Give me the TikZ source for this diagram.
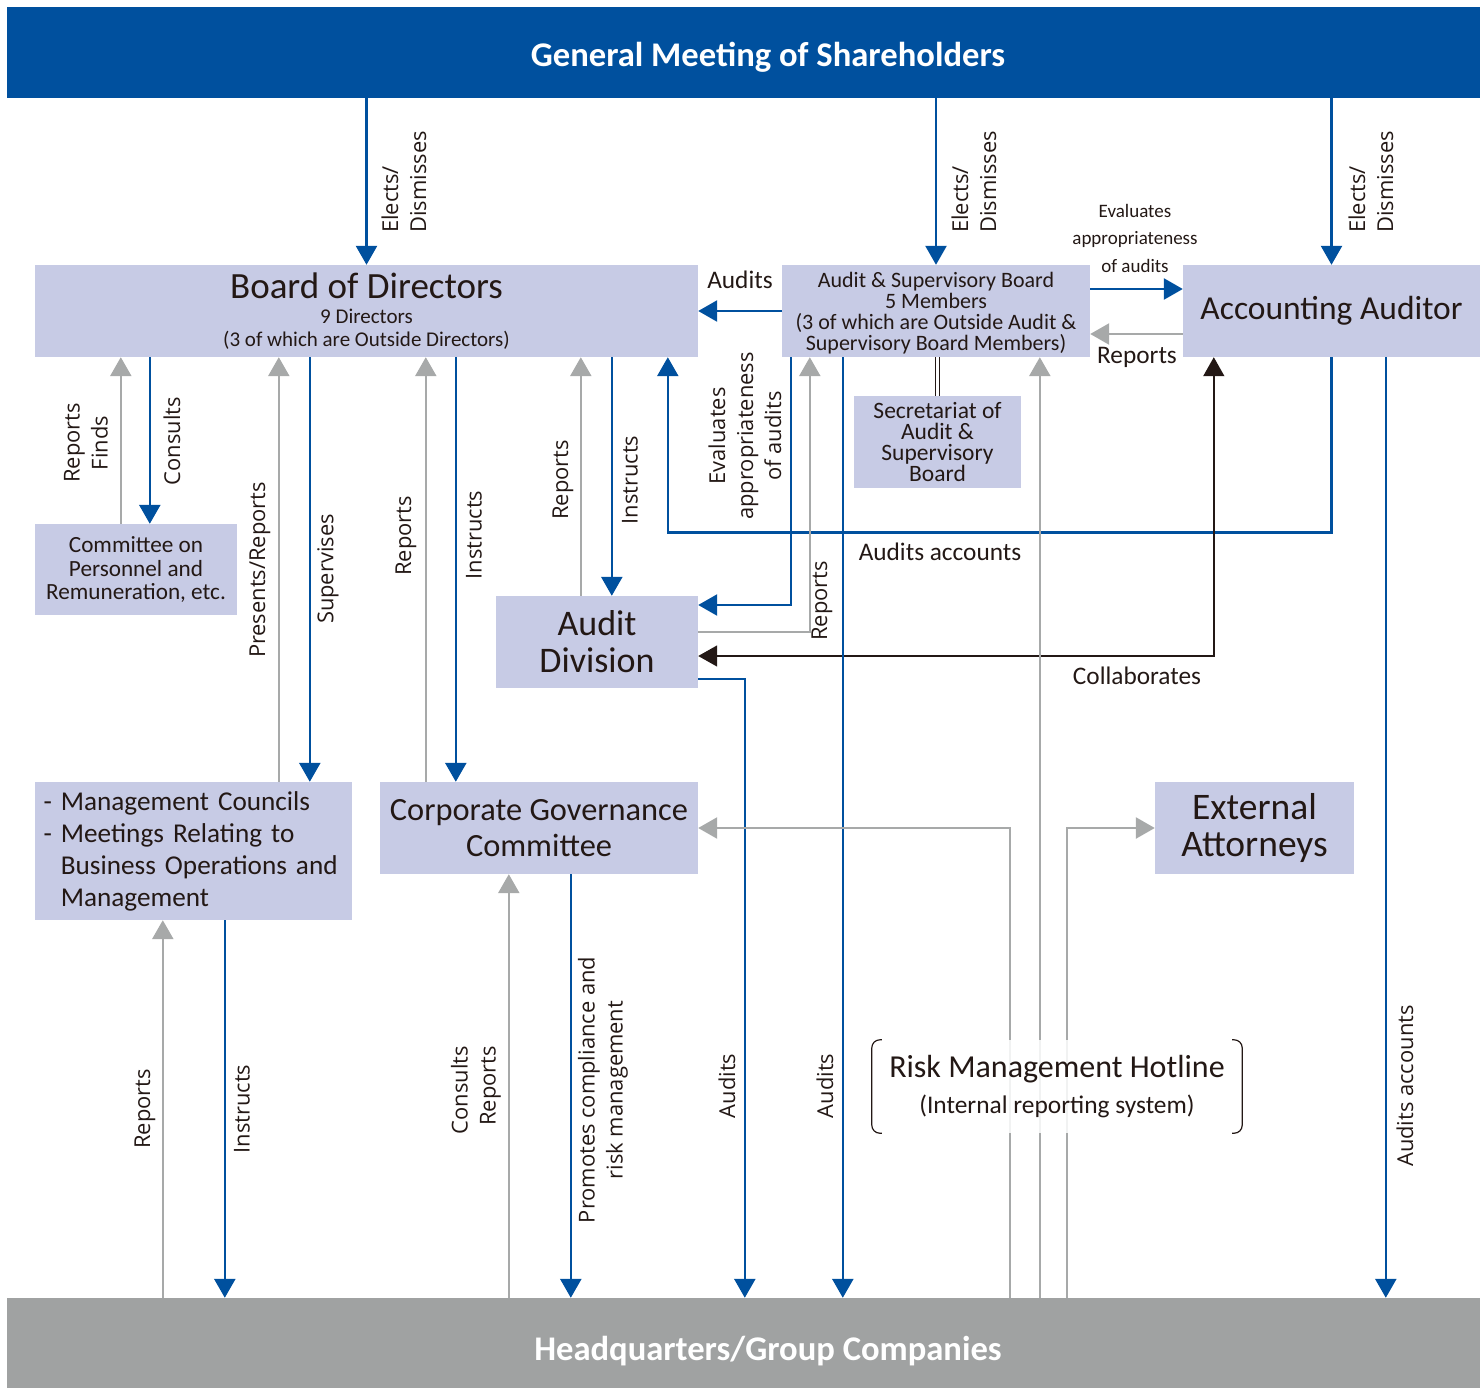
\documentclass[tikz,border=0pt]{standalone}
\usepackage{fontspec}
\setmainfont{Carlito}
\newfontfamily\vfont{Open Sans}
\usetikzlibrary{arrows.meta}
\definecolor{GmsBlue}{RGB}{0,80,158}
\definecolor{BoxFill}{RGB}{199,203,229}
\definecolor{LineGray}{RGB}{167,169,169}
\definecolor{HqGray}{RGB}{160,162,162}
\definecolor{Ink}{RGB}{35,24,21}
\newcommand{\fsz}[2]{\fontsize{#1}{#2}\selectfont\lineskiplimit=-100pt}

\tikzset{
  bar/.style={inner sep=0pt, text=white, font=\bfseries\fsz{34.6}{40}},
  box/.style={fill=BoxFill, inner sep=0pt, align=center, text=Ink},
  headtip/.style={-{Triangle[length=19pt,width=21pt]}},
  bluearrow/.style={draw=GmsBlue, line width=2.6pt, headtip},
  grayarrow/.style={draw=LineGray, line width=2.6pt, headtip},
  vlbl/.style={rotate=90, inner sep=0pt, text=Ink, font=\vfont\fsz{21.9}{28}},
  hlbl/.style={inner sep=0pt, text=Ink, font=\fsz{25.3}{28}},
}

\begin{document}
\begin{tikzpicture}[x=1pt,y=-1pt]
  \useasboundingbox (0,0) rectangle (1480,1387);

  % top and bottom bars
  \node[bar, fill=GmsBlue, minimum width=1522, minimum height=91] (gms) at (768,52.5)
    {\raisebox{-5pt}[\height][\depth]{General Meeting of Shareholders}};
  \node[bar, fill=HqGray, minimum width=1522, minimum height=103] (hq) at (768,1349.5)
    {\raisebox{-2pt}[\height][\depth]{Headquarters/Group Companies}};

  % bodies
  \node[box, minimum width=663, minimum height=92, font=\fsz{21}{23}] (bod) at (366.5,311)
    {{\fsz{37}{30}Board of Directors}\\[2pt]9 Directors\\(3 of which are Outside Directors)};
  \node[box, minimum width=308, minimum height=92, font=\fsz{22}{21}] (asb) at (936,311)
    {\raisebox{-2pt}[\height][\depth]{Audit \& Supervisory Board}\\\raisebox{-2pt}[\height][\depth]{5 Members}\\\raisebox{-2pt}[\height][\depth]{(3 of which are Outside Audit \&}\\\raisebox{-2pt}[\height][\depth]{Supervisory Board Members)}};
  \node[box, minimum width=297, minimum height=92, font=\fsz{33.5}{36}] (aa) at (1331.5,311) {Accounting Auditor};
  \node[box, minimum width=167, minimum height=92, font=\fsz{23.5}{21}] (sec) at (937.5,442)
    {Secretariat of\\Audit \&\\Supervisory\\Board};
  \node[box, minimum width=202, minimum height=91, font=\fsz{23.2}{23.5}] (cpr) at (136,569.5)
    {Committee on\\Personnel and\\Remuneration, etc.};
  \node[box, minimum width=202, minimum height=92, font=\fsz{36}{37}] (ad) at (597,642) {Audit\\Division};
  \node[box, text width=300, inner xsep=8.5, minimum height=138, align=left, font=\fsz{27.2}{32}] (mc) at (193.5,851)
    {- Management Councils\\- Meetings Relating to\\\hphantom{- }Business Operations and\\\hphantom{- }Management};
  \node[box, minimum width=318, minimum height=92, font=\fsz{32.4}{36}] (cgc) at (539,828) {Corporate Governance\\Committee};
  \node[box, minimum width=199, minimum height=92, font=\fsz{37.5}{37}] (ea) at (1254.5,828) {External\\Attorneys};

  % shareholders
  \draw[bluearrow] (gms.south -| bod.north) -- (bod.north);
  \draw[bluearrow] (gms.south -| asb.north) -- (asb.north);
  \draw[bluearrow] (gms.south -| aa.north) -- (aa.north);
  \node[vlbl, align=left] (l1) at (404,182) {Elects/\\Dismisses};
  \node[vlbl, align=left] (l2) at (974,182) {Elects/\\Dismisses};
  \node[vlbl, align=left] (l3) at (1371,182) {Elects/\\Dismisses};

  % board level
  \draw[bluearrow] (asb.west) -- (asb.west -| bod.east);
  \node[hlbl] (l4) at (740,280) {Audits};
  \draw[bluearrow] ([yshift=22pt]asb.east) -- ([yshift=22pt]aa.west);
  \node[hlbl, align=center, font=\fsz{19}{27.5}] (l5) at (1135,238) {Evaluates\\appropriateness\\of audits};
  \draw[grayarrow] ([yshift=-23pt]aa.west) -- ([yshift=-23pt]asb.east);
  \node[hlbl] (l6) at (1137,357) {Reports};
  \draw[draw=Ink, line width=1pt, double=white, double distance=3pt] (sec.north) -- (sec.north |- asb.south);

  % board of directors and below
  \draw[grayarrow] ([xshift=86pt]cpr.north west) -- ([xshift=86pt]cpr.north west |- bod.south);
  \node[vlbl, align=center] (l7) at (86,443) {Reports\\Finds};
  \draw[bluearrow] ([xshift=115pt]bod.south west) -- ([xshift=115pt]bod.south west |- cpr.north);
  \node[vlbl] (l8) at (172,441) {Consults};
  \draw[grayarrow] ([xshift=244pt]mc.north west) -- ([xshift=244pt]mc.north west |- bod.south);
  \node[vlbl] (l9) at (260,570) {Presents/Reports};
  \draw[bluearrow] ([xshift=275pt]bod.south west) -- ([xshift=275pt]bod.south west |- mc.north);
  \node[vlbl] (l10) at (328,569) {Supervises};
  \draw[grayarrow] ([xshift=46pt]cgc.north west) -- ([xshift=46pt]cgc.north west |- bod.south);
  \node[vlbl] (l11) at (406,536) {Reports};
  \draw[bluearrow] ([xshift=421pt]bod.south west) -- ([xshift=421pt]bod.south west |- cgc.north);
  \node[vlbl] (l12) at (474,535) {Instructs};
  \draw[grayarrow] ([xshift=85pt]ad.north west) -- ([xshift=85pt]ad.north west |- bod.south);
  \node[vlbl] (l13) at (563,480) {Reports};
  \draw[bluearrow] ([xshift=577pt]bod.south west) -- ([xshift=577pt]bod.south west |- ad.north);
  \node[vlbl] (l14) at (630,480) {Instructs};

  % auditors
  \draw[bluearrow] (aa.south) -- ++(0,175) -| ([xshift=633pt]bod.south west);
  \node[hlbl] (l15) at (940,552) {Audits accounts};
  \draw[bluearrow] ([xshift=9pt]asb.south west) |- ([yshift=37pt]ad.east);
  \node[vlbl, align=center] (l16) at (745,436) {Evaluates\\appropriateness\\of audits};
  \draw[grayarrow] ([yshift=10pt]ad.east) -| ([xshift=28pt]asb.south west);
  \node[vlbl] (l17) at (822,601) {Reports};
  \draw[draw=Ink, line width=1.6pt, {Triangle[length=19pt,width=21pt]}-{Triangle[length=19pt,width=21pt]}]
    ([yshift=-14pt]ad.east) -| ([xshift=31pt]aa.south west);
  \node[hlbl] (l18) at (1137,676) {Collaborates};

  % group companies
  \draw[bluearrow] ([xshift=61pt]asb.south west) -- ([xshift=61pt]asb.south west |- hq.north);
  \node[vlbl] (l19) at (825,1086) {Audits};
  \draw[bluearrow] ([yshift=-37pt]ad.east) -| ([xshift=738pt]hq.north west);
  \node[vlbl] (l20) at (727,1086) {Audits};
  \draw[bluearrow] ([xshift=203pt]aa.south west) -- ([xshift=203pt]aa.south west |- hq.north);
  \node[vlbl] (l21) at (1405,1086) {Audits accounts};
  \draw[grayarrow] ([xshift=128pt]mc.south west |- hq.north) -- ([xshift=128pt]mc.south west);
  \node[vlbl] (l22) at (145,1109) {Reports};
  \draw[bluearrow] ([xshift=190pt]mc.south west) -- ([xshift=190pt]mc.south west |- hq.north);
  \node[vlbl] (l23) at (242,1109) {Instructs};
  \draw[grayarrow] ([xshift=129pt]cgc.south west |- hq.north) -- ([xshift=129pt]cgc.south west);
  \node[vlbl, align=right] (l24) at (476,1090) {Consults\\Reports};
  \draw[bluearrow] ([xshift=191pt]cgc.south west) -- ([xshift=191pt]cgc.south west |- hq.north);
  \node[vlbl, align=center] (l25) at (603,1090) {Promotes compliance and\\risk management};

  % hotline
  \draw[grayarrow] ([xshift=258pt]asb.south west |- hq.north) -- ([xshift=258pt]asb.south west);
  \draw[grayarrow] ([xshift=1003pt]hq.north west) |- (cgc.east);
  \draw[grayarrow] ([xshift=1060pt]hq.north west) |- (ea.west);
  \node[hlbl, align=center, font=\fsz{25.4}{36}, fill=white, fill opacity=0.85, text opacity=1, minimum width=370, minimum height=93] (hot) at (1057,1086.5)
    {{\fsz{32}{30}Risk Management Hotline}\\(Internal reporting system)};
  \draw[Ink, line width=1.2pt, rounded corners=8pt] ([xshift=10pt]hot.north west) -- (hot.north west) -- (hot.south west) -- ([xshift=10pt]hot.south west);
  \draw[Ink, line width=1.2pt, rounded corners=8pt] ([xshift=-10pt]hot.north east) -- (hot.north east) -- (hot.south east) -- ([xshift=-10pt]hot.south east);
\end{tikzpicture}
\end{document}
